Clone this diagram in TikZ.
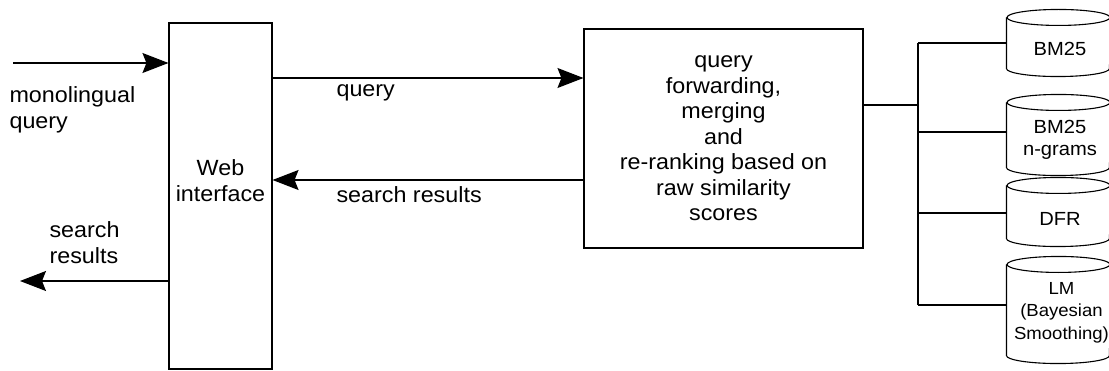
\documentclass[tikz,border=0pt]{standalone}
\usepackage{fontspec}
\setmainfont{Liberation Sans}[FakeStretch=1.06]
\usetikzlibrary{arrows.meta}

% outline of a database cylinder drawn around a named rectangle node
\newcommand\dbshape[1]{%
  \draw (#1.north) ellipse [x radius=51.5pt, y radius=8pt];
  \draw (#1.north west) -- (#1.south west)
        arc [start angle=180, end angle=360, x radius=51.5pt, y radius=8pt]
        -- (#1.north east);
}

\begin{document}
\begin{tikzpicture}[x=1pt,y=1pt,
  line width=1.1pt,
  box/.style={draw, rectangle, inner sep=0pt},
  txt/.style={font=\fontsize{22}{26}\selectfont, align=center, inner sep=0pt},
  lbl/.style={font=\fontsize{22}{26}\selectfont, align=left, inner sep=0pt},
  dbtxt/.style={font=\fontsize{19}{22.5}\selectfont, align=center, inner sep=0pt},
  db/.style={rectangle, inner sep=0pt, minimum width=103pt},
  flow/.style={-{Stealth[length=26pt,width=20pt,inset=4pt]}}]

\fill[white] (0,0) rectangle (1109,370);
\useasboundingbox (0,0) rectangle (1109,370);

% web front end
\node[box, minimum width=103pt, minimum height=346pt] (web) at (220.5,174) {};
\node[txt] (webtxt) at ([yshift=15.3pt]web.center) {Web\\interface};

% broker
\node[box, txt, font=\fontsize{22}{25.5}\selectfont,
      minimum width=279pt, minimum height=219pt] (main) at (723.5,231.5)
  {query\\forwarding,\\merging\\and\\re-ranking based on\\raw similarity\\scores};

% user side
\coordinate (in) at (13,307);
\draw[flow] (in) -- (in -| web.west);
\node[lbl, anchor=north west] (inlbl) at (9,284) {monolingual\\query};

\coordinate (out) at (20,89);
\draw[flow] (out -| web.west) -- (out);
\node[lbl, anchor=north west] (outlbl) at (49,149) {search\\results};

% web interface <-> broker
\coordinate (q) at (0,292);
\draw[flow] (q -| web.east) -- (q -| main.west);
\node[lbl, anchor=base west] (qlbl) at (336,273) {query};

\coordinate (r) at (0,190);
\draw[flow] (r -| main.west) -- (r -| web.east);
\node[lbl, anchor=base west] (rlbl) at (336,167) {search results};

% retrieval models
\node[db, minimum height=50pt] (db1) at (1058.5,327) {};
\node[db, minimum height=64pt] (db2) at (1058.5,235) {};
\node[db, minimum height=52pt] (db3) at (1058.5,158) {};
\node[db, minimum height=90pt] (db4) at (1058.5,60) {};
\dbshape{db1}
\dbshape{db2}
\dbshape{db3}
\dbshape{db4}
\node[dbtxt] (t1) at (1060,321.5) {BM25};
\node[dbtxt] (t2) at (1060,230.3) {BM25\\n-grams};
\node[dbtxt] (t3) at (1060,151) {DFR};
\node[dbtxt, font=\fontsize{17.5}{22.5}\selectfont] (t4) at (1061.5,57.3)
  {LM\\(Bayesian\\Smoothing)};

% fan-out from the broker
\coordinate (hub) at (918,265);
\coordinate (b1) at (918,327);
\coordinate (b2) at (918,238);
\coordinate (b3) at (918,157);
\coordinate (b4) at (918,65);
\draw (hub -| main.east) -- (hub);
\draw (b1) -- (b4);
\draw (b1) -- (b1 -| db1.west);
\draw (b2) -- (b2 -| db2.west);
\draw (b3) -- (b3 -| db3.west);
\draw (b4) -- (b4 -| db4.west);
\end{tikzpicture}
\end{document}
